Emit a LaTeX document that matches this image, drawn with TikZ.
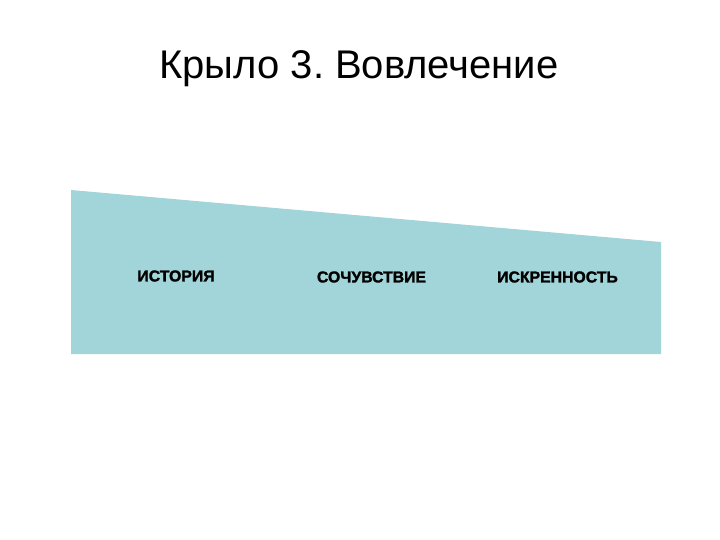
\documentclass[tikz,border=0pt]{standalone}
\usepackage{fontspec}
\setmainfont{Liberation Sans}
\newfontfamily\heavyfont[BoldFeatures={FakeBold=1.6}]{Liberation Sans}
\frenchspacing
\usetikzlibrary{positioning}
\definecolor{wingfill}{RGB}{161,213,217}

\begin{document}
\begin{tikzpicture}[x=1pt, y=-1pt, semithick,
    wordlabel/.style={inner sep=0pt, font=\heavyfont\fontsize{15.8}{18}\selectfont\bfseries}]
                \useasboundingbox (0, 0) rectangle (720, 540);
                \fill[wingfill] (71, 190) -- (661, 242) -- (661, 354) -- (71, 354) -- cycle;
                \node (title) at (359, 69) {\fontsize{40}{46}\selectfont Крыло 3. Вовлечение};
                \node[wordlabel] (story) at (176, 276) {ИСТОРИЯ};
                \node[wordlabel] (sympathy) at (371.5, 277) {СОЧУВСТВИЕ};
                \node[wordlabel] (sincerity) at (557.5, 277) {ИСКРЕННОСТЬ};
            \end{tikzpicture}
\end{document}
